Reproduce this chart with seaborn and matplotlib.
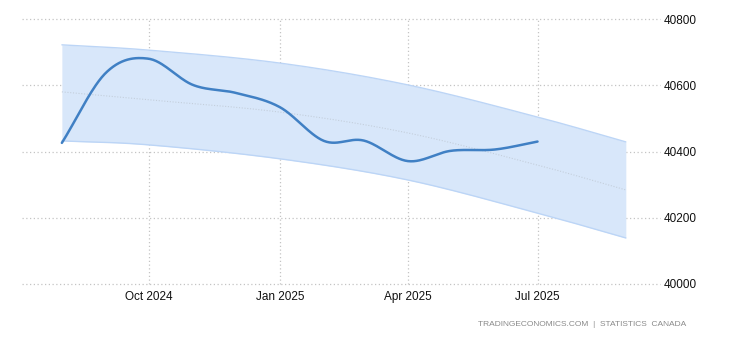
import numpy as np
import pandas as pd
import matplotlib
matplotlib.use("Agg")
import matplotlib.pyplot as plt
import matplotlib.dates as mdates
import seaborn as sns

# ---- data ----
dates = ["2024-08-01", "2024-09-01", "2024-10-01", "2024-11-01", "2024-12-01",
         "2025-01-01", "2025-02-01", "2025-03-01", "2025-04-01", "2025-05-01",
         "2025-06-01", "2025-07-01"]
values = [40426, 40638, 40680, 40601, 40577, 40534, 40432, 40433, 40371,
          40402, 40406, 40430]

fc_dates = ["2024-08-01", "2024-10-01", "2025-01-01", "2025-04-01",
            "2025-07-01", "2025-09-01"]
fc_upper = [40722, 40706, 40667, 40601, 40504, 40429]
fc_mid = [40580, 40556, 40519, 40456, 40359, 40284]
fc_lower = [40432, 40420, 40378, 40314, 40214, 40139]

tick_dates = ["2024-10-01", "2025-01-01", "2025-04-01", "2025-07-01"]
tick_labels = ["Oct 2024", "Jan 2025", "Apr 2025", "Jul 2025"]
y_ticks = [40000, 40200, 40400, 40600, 40800]
source_text = "TRADINGECONOMICS.COM  |  STATISTICS  CANADA"

# ---- style ----
sns.set_theme(style="white")
plt.rcParams["font.family"] = ["Liberation Sans", "DejaVu Sans"]

df = pd.DataFrame({"date": pd.to_datetime(dates), "value": values})
fc = pd.DataFrame({"date": pd.to_datetime(fc_dates), "upper": fc_upper,
                   "mid": fc_mid, "lower": fc_lower})


def catmull_rom(x, y, n=30):
    """Smooth rendering of a line through the given points."""
    x = np.asarray(x, float)
    y = np.asarray(y, float)
    px = np.concatenate([[2 * x[0] - x[1]], x, [2 * x[-1] - x[-2]]])
    py = np.concatenate([[2 * y[0] - y[1]], y, [2 * y[-1] - y[-2]]])
    xs, ys = [], []
    for i in range(1, len(px) - 2):
        t = np.linspace(0, 1, n, endpoint=False)
        for arr, out in ((px, xs), (py, ys)):
            p0, p1, p2, p3 = arr[i - 1], arr[i], arr[i + 1], arr[i + 2]
            out.append(0.5 * ((2 * p1) + (-p0 + p2) * t
                              + (2 * p0 - 5 * p1 + 4 * p2 - p3) * t ** 2
                              + (-p0 + 3 * p1 - 3 * p2 + p3) * t ** 3))
    xs.append([x[-1]])
    ys.append([y[-1]])
    return np.concatenate(xs), np.concatenate(ys)


fig = plt.figure(figsize=(7.3, 3.4), dpi=100)
ax = fig.add_axes([22 / 730, 1 - 284 / 340, (660 - 22) / 730, (284 - 19) / 340])

xnum = mdates.date2num(df["date"])
fxnum = mdates.date2num(fc["date"])

# forecast band
bx, bu = catmull_rom(fxnum, fc["upper"])
_, bl = catmull_rom(fxnum, fc["lower"])
_, bm = catmull_rom(fxnum, fc["mid"])
ax.fill_between(bx, bl, bu, color="#d8e7fa", lw=0, zorder=1)
ax.plot(bx, bu, color="#bcd5f6", lw=1, zorder=2)
ax.plot(bx, bl, color="#bcd5f6", lw=1, zorder=2)
ax.plot(bx, bm, color="#c4cfdc", lw=0.8, ls=(0, (1, 1.5)), zorder=2)

# main series
sx, sy = catmull_rom(xnum, df["value"])
smooth = pd.DataFrame({"date": mdates.num2date(sx), "value": sy})
sns.lineplot(data=smooth, x="date", y="value", ax=ax, color="#4080c4",
             lw=1.8, zorder=3, sort=False)

ax.set_xlim(mdates.date2num(pd.Timestamp("2024-07-04")),
            mdates.date2num(pd.Timestamp("2025-09-25")))
ax.set_ylim(y_ticks[0], y_ticks[-1])

ax.set_xticks(mdates.date2num(pd.to_datetime(tick_dates)))
ax.set_xticklabels(tick_labels)
ax.set_yticks(y_ticks)
ax.set_yticklabels([str(v) for v in y_ticks])
ax.yaxis.tick_right()
ax.tick_params(axis="both", length=0, labelsize=8.5, colors="#111111")
ax.tick_params(axis="y", pad=3)
ax.tick_params(axis="x", pad=5)
ax.set_xlabel("")
ax.set_ylabel("")

ax.grid(True, color="#c4c4c4", lw=0.9, ls=(0, (1, 2)))
for gl in ax.get_ygridlines() + ax.get_xgridlines():
    gl.set_clip_on(False)
for s in ax.spines.values():
    s.set_visible(False)
ax.set_axisbelow(True)

fig.text(686 / 730, 1 - 325 / 340, source_text, ha="right", va="center",
         fontsize=6, color="#8a8a8a")

fig.savefig("out.png", dpi=100)
